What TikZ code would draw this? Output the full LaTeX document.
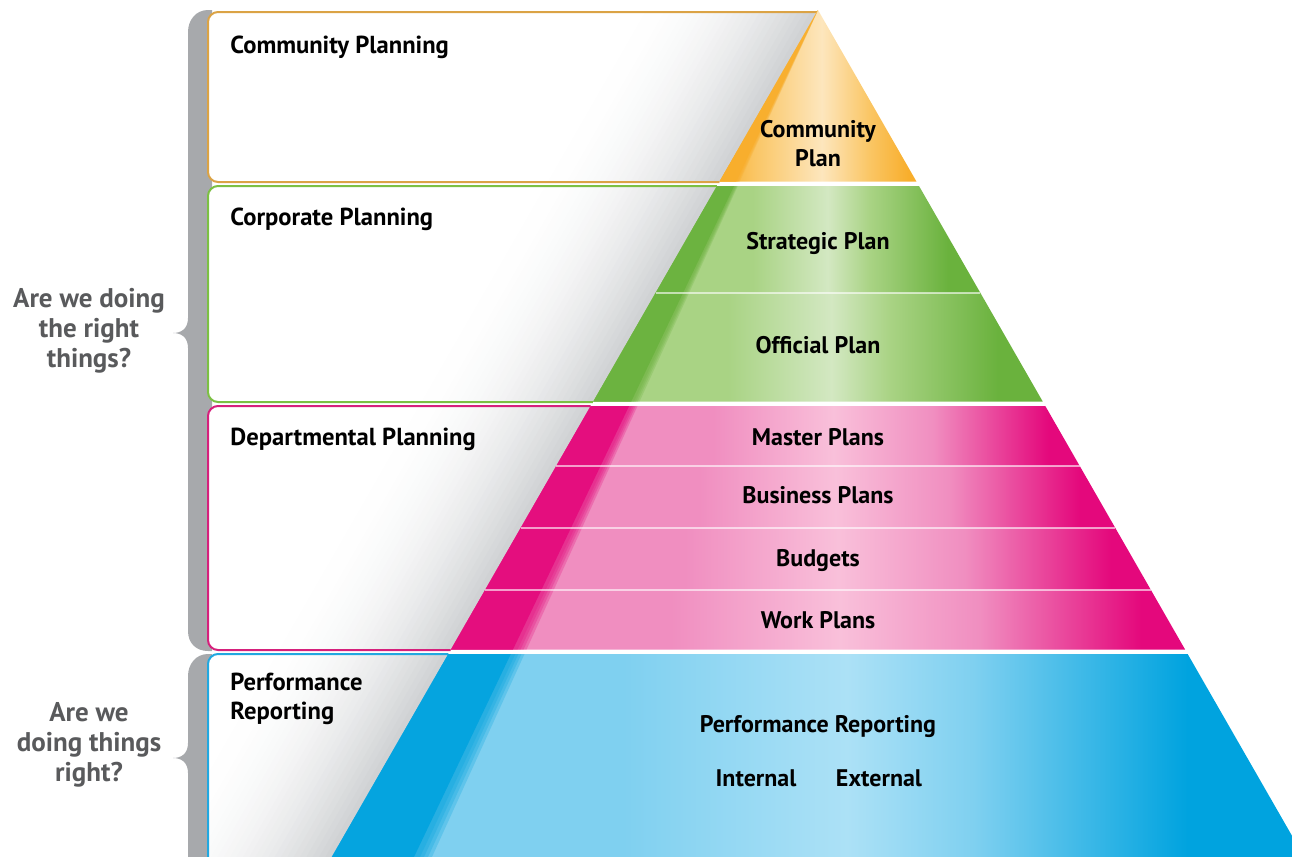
\documentclass[tikz,border=0pt]{standalone}
\usepackage{fontspec}
\setmainfont{PT Sans}
\definecolor{brk}{HTML}{A7A9AC}
\definecolor{qgray}{HTML}{595A5C}
\definecolor{edgegray}{HTML}{D0D2D4}
\definecolor{bOr}{HTML}{DBA345}
\definecolor{bGr}{HTML}{7CC043}
\definecolor{bPk}{HTML}{D6207C}
\definecolor{bBl}{HTML}{22A8E0}
\definecolor{orD}{HTML}{F8AE2C}
\definecolor{orL}{HTML}{FAC665}
\definecolor{orLL}{HTML}{FDE6BD}
\definecolor{grD}{HTML}{6AB23D}
\definecolor{grL}{HTML}{A9D384}
\definecolor{grLL}{HTML}{D3E8C2}
\definecolor{pkD}{HTML}{E4087C}
\definecolor{pkL}{HTML}{F08EC0}
\definecolor{pkLL}{HTML}{F9C0DA}
\definecolor{blD}{HTML}{00A3DF}
\definecolor{blL}{HTML}{7FD0F0}
\definecolor{blLL}{HTML}{ACE1F6}
\pgfdeclarehorizontalshading{orsh}{100bp}{color(0bp)=(orD); color(25bp)=(orD); color(34bp)=(orL); color(51bp)=(orLL); color(63bp)=(orL); color(73bp)=(orD); color(100bp)=(orD)}
\pgfdeclarehorizontalshading{grsh}{100bp}{color(0bp)=(grL); color(40bp)=(grL); color(51.5bp)=(grLL); color(58bp)=(grL); color(70bp)=(grD); color(100bp)=(grD)}
\pgfdeclarehorizontalshading{pksh}{100bp}{color(0bp)=(pkL); color(40bp)=(pkL); color(51.5bp)=(pkLL); color(61bp)=(pkL); color(72bp)=(pkD); color(100bp)=(pkD)}
\pgfdeclarehorizontalshading{blsh}{100bp}{color(0bp)=(blL); color(40bp)=(blL); color(51.5bp)=(blLL); color(58bp)=(blL); color(69bp)=(blD); color(100bp)=(blD)}
\newcommand{\boxpath}[2]{({818-0.574*(#1-10)},#1) -- (218,#1) .. controls (212.5,#1) and (208,#1+4.5) .. (208,#1+10) -- (208,#2-10) .. controls (208,#2-4.5) and (212.5,#2) .. (218,#2) -- ({818-0.574*(#2-10)},#2)}
\newcommand{\planbox}[3]{%
  \fill[white] \boxpath{#1}{#2} -- cycle;
  \begin{scope}
    \clip \boxpath{#1}{#2} -- cycle;
    \foreach \k in {0,...,29} {
      \pgfmathsetmacro\w{190*(1-\k/30)}
      \pgfmathsetmacro\p{100*(\k/29)^2}
      \fill[edgegray!\p!white] ({818-0.574*(#1-10)-\w},#1) -- ({818-0.574*(#1-10)+2},#1) -- ({818-0.574*(#2-10)+2},#2) -- ({818-0.574*(#2-10)-\w},#2) -- cycle;
    }
  \end{scope}
  \draw[#3, line width=1pt] \boxpath{#1}{#2};
}
\newcommand{\bandpath}[2]{({818-0.574*(#1-10)},#1) -- ({818+0.574*(#1-10)},#1) -- ({818+0.574*(#2-10)},#2) -- ({818-0.574*(#2-10)},#2) -- cycle}
\newcommand{\pband}[4]{%
  \shade[shading=#3] \bandpath{#1}{#2};
  \begin{scope}
    \clip \bandpath{#1}{#2};
    \foreach \ww in {432,428,424,420} {
      \fill[#4, opacity=0.25] (818,10) -- (331.8,857) -- (\ww,857) -- cycle;
    }
    \fill[#4, opacity=0.85] (818,10) -- (331.8,857) -- (414,857) -- cycle;
  \end{scope}
}
\newcommand{\subline}[1]{\draw[white, opacity=0.6, line width=0.6pt] ({818-0.574*(#1-10)},#1) -- ({818+0.574*(#1-10)},#1);}
\begin{document}
\begin{tikzpicture}[x=0.5pt,y=-0.5pt,
  ttl/.style={font=\fontsize{12.3}{14.5}\selectfont\bfseries, text=black, inner sep=0},
  lab/.style={font=\fontsize{12}{14.5}\selectfont\bfseries, text=black, inner sep=0, align=center},
  qst/.style={font=\fontsize{13.5}{15}\selectfont\bfseries, text=qgray, inner sep=0, align=center}]
\useasboundingbox (0,0) rectangle (1292,857);
\clip (0,0) rectangle (1292,857);
% brackets
\fill[brk] (212,10) -- (212,651) -- (208,651) .. controls (196,651) and (188,643) .. (188,631) -- (188,348) .. controls (188,337) and (181,333) .. (173,333) .. controls (181,333) and (188,329) .. (188,318) -- (188,32) .. controls (188,20) and (196,10) .. (208,10) -- cycle;
\fill[brk] (212,654) -- (212,870) -- (188,870) -- (188,773) .. controls (188,762) and (181,758) .. (173,758) .. controls (181,758) and (188,754) .. (188,743) -- (188,676) .. controls (188,664) and (196,654) .. (208,654) -- cycle;
% boxes
\planbox{12}{182}{bOr}
\planbox{186}{402}{bGr}
\planbox{406}{650}{bPk}
\planbox{654}{875}{bBl}
% pyramid
\pband{10}{181.5}{orsh}{orD}
\pband{186}{293}{grsh}{grD}
\pband{293}{401.5}{grsh}{grD}
\pband{406}{466}{pksh}{pkD}
\pband{466}{528}{pksh}{pkD}
\pband{528}{590}{pksh}{pkD}
\pband{590}{649.5}{pksh}{pkD}
\pband{654}{857}{blsh}{blD}
\subline{293}
\subline{466}
\subline{528}
\subline{590}
% box titles
\node[ttl, anchor=base west] (t1) at (230,53) {Community Planning};
\node[ttl, anchor=base west] (t2) at (230,225) {Corporate Planning};
\node[ttl, anchor=base west] (t3) at (230,445) {Departmental Planning};
\node[ttl, anchor=base west, align=left] (t4) at (230,719) {Performance\\Reporting};
% pyramid labels
\node[lab, anchor=base] (p1) at (818,166) {Community\\Plan};
\node[lab, anchor=base] (p2) at (818,249) {Strategic Plan};
\node[lab, anchor=base] (p3) at (818,353) {Official Plan};
\node[lab, anchor=base] (p4) at (818,445) {Master Plans};
\node[lab, anchor=base] (p5) at (818,503) {Business Plans};
\node[lab, anchor=base] (p6) at (818,566) {Budgets};
\node[lab, anchor=base] (p7) at (818,628) {Work Plans};
\node[lab, anchor=base] (p8) at (818,732) {Performance Reporting};
\node[lab, anchor=base] (p9) at (756,786) {Internal};
\node[lab, anchor=base] (p10) at (879,786) {External};
% questions
\node[qst, anchor=base] (q1) at (89,367) {Are we doing\\the right\\things?};
\node[qst, anchor=base] (q2) at (89,781) {Are we\\doing things\\right?};
\end{tikzpicture}
\end{document}
